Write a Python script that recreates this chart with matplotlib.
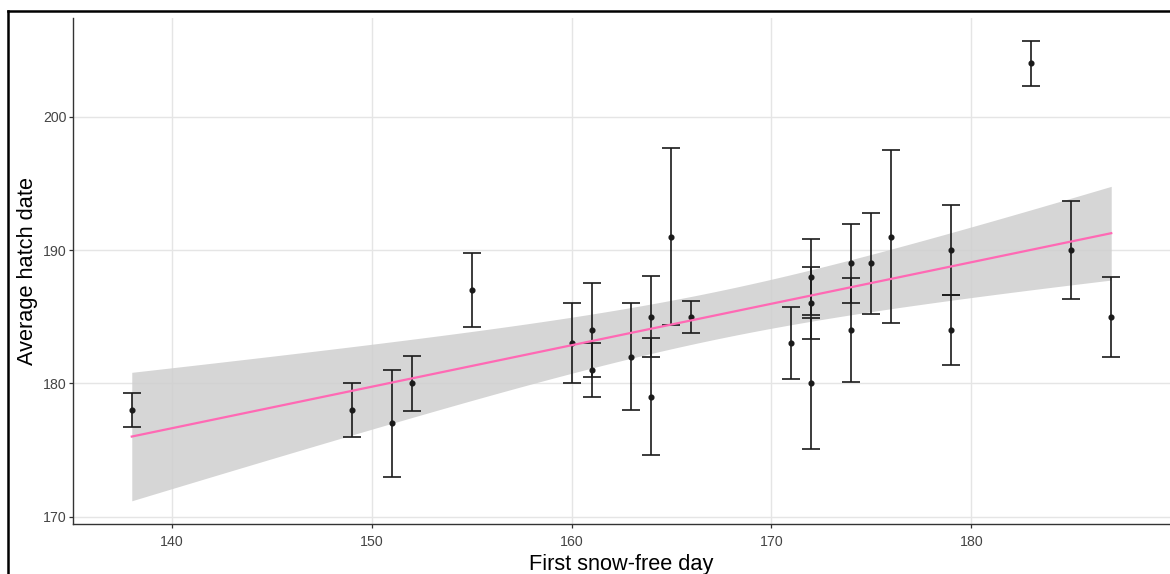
import numpy as np
import matplotlib
matplotlib.use("Agg")
from matplotlib import pyplot as plt
from matplotlib.lines import Line2D

plt.rcParams['font.family'] = ['Liberation Sans', 'DejaVu Sans']

# first snow-free day, average hatch date, +/- error
snow_free_day = [138, 149, 151, 152, 155, 160, 161, 161, 163, 164, 164, 165, 166,
                 171, 172, 172, 172, 174, 174, 175, 176, 179, 179, 183, 185, 187]
hatch_date = [178, 178, 177, 180, 187, 183, 184, 181, 182, 185, 179, 191, 185,
              183, 188, 186, 180, 189, 184, 189, 191, 190, 184, 204, 190, 185]
hatch_err = [1.3, 2.05, 4.0, 2.05, 2.8, 3.0, 3.5, 2.0, 4.0, 3.05, 4.4, 6.65, 1.2,
             2.7, 2.87, 2.7, 4.9, 2.95, 3.9, 3.8, 6.5, 3.37, 2.6, 1.67, 3.7, 3.0]

x = np.array(snow_free_day, dtype=float)
y = np.array(hatch_date, dtype=float)

# linear fit with 95% confidence band (like geom_smooth(method="lm"))
n = len(x)
slope, intercept = np.polyfit(x, y, 1)
resid = y - (slope * x + intercept)
s = np.sqrt(np.sum(resid ** 2) / (n - 2))
t_crit = 2.0639  # t(0.975, df=24)
xs = np.linspace(x.min(), x.max(), 80)
fit = slope * xs + intercept
se = s * np.sqrt(1.0 / n + (xs - x.mean()) ** 2 / np.sum((x - x.mean()) ** 2))

fig = plt.figure(figsize=(11.7, 5.74), dpi=100)
ax = fig.add_axes([73 / 1170, 50.3 / 574, 1097 / 1170, 505.7 / 574])

ax.grid(True, color='#e5e5e5', linewidth=1.0)
ax.set_axisbelow(True)

ax.errorbar(x, y, yerr=hatch_err, fmt='o', color='#1a1a1a', ms=3.4,
            elinewidth=1.2, capsize=6.5, capthick=1.2, zorder=3)
ax.fill_between(xs, fit - t_crit * se, fit + t_crit * se, color='#cfcfcf',
                alpha=0.85, linewidth=0, zorder=2)
ax.plot(xs, fit, color='#ff69b4', linewidth=1.6, zorder=4)

ax.set_xlim(135.06, 189.94)
ax.set_ylim(169.48, 207.41)
ax.set_xticks([140, 150, 160, 170, 180])
ax.set_yticks([170, 180, 190, 200])

for side in ['top', 'right']:
    ax.spines[side].set_visible(False)
for side in ['left', 'bottom']:
    ax.spines[side].set_color('#333333')
    ax.spines[side].set_linewidth(1.0)

ax.tick_params(axis='both', colors='#333333', labelcolor='#444444',
               labelsize=10.2, length=3.0, width=0.9)
ax.tick_params(axis='x', pad=5)
ax.tick_params(axis='y', pad=1.5)

ax.set_xlabel('First snow-free day', fontsize=15.7, labelpad=4)
ax.set_ylabel('Average hatch date', fontsize=15.7, labelpad=4)

# screenshot frame on top and left
fig.add_artist(Line2D([8 / 1170, 1.0], [1 - 10.5 / 574, 1 - 10.5 / 574],
                      color='black', linewidth=1.8, transform=fig.transFigure))
fig.add_artist(Line2D([8 / 1170, 8 / 1170], [0.0, 1 - 10.5 / 574],
                      color='black', linewidth=1.8, transform=fig.transFigure))

fig.savefig('out.png', dpi=100)
